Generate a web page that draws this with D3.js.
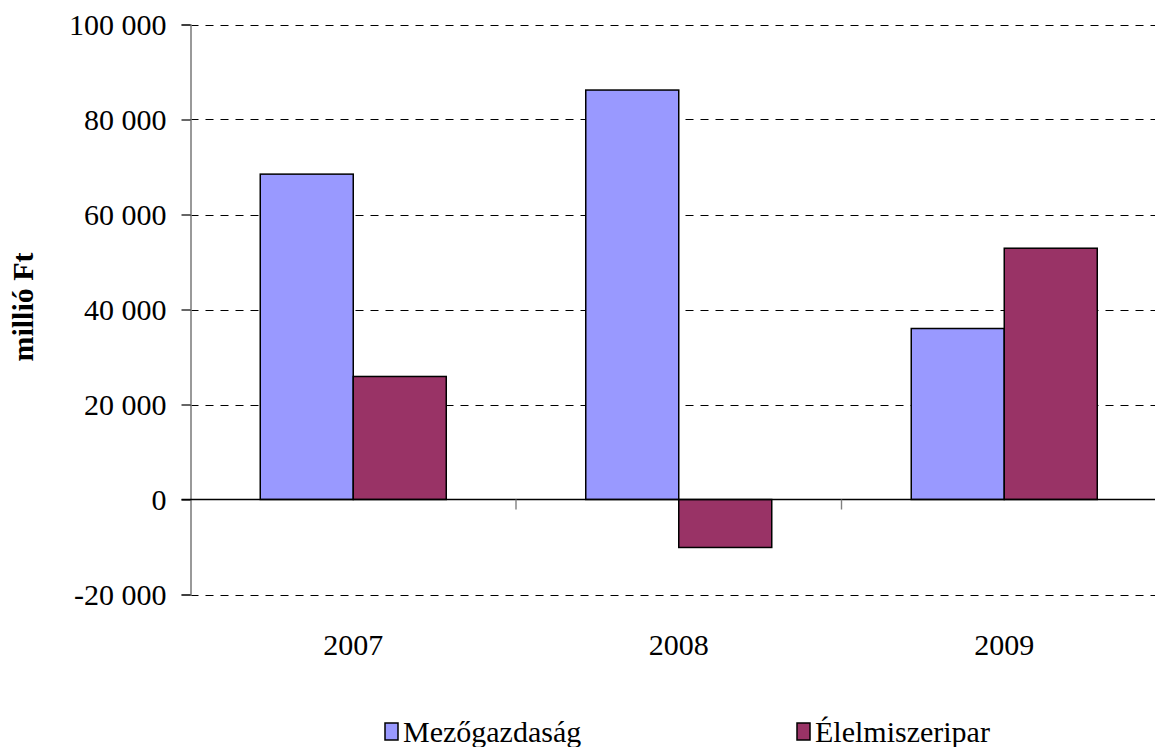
<!DOCTYPE html>
<html>
<head>
<meta charset="utf-8">
<script src="https://cdn.jsdelivr.net/npm/d3@7"></script>
<style>
  .serif { font-family: 'Liberation Serif', Tinos, FreeSerif, 'Times New Roman', serif; }
</style>
</head>
<body style="margin:0;background:#fff">
<svg id="fig" width="1155" height="747" style="display:block"></svg>
<script>
const categories = ["2007", "2008", "2009"];
const seriesNames = ["Mezőgazdaság", "Élelmiszeripar"];
const mezogazdasag = [68500, 86200, 36000];
const elelmiszeripar = [25900, -10100, 52900];
const yTicks = [-20000, 0, 20000, 40000, 60000, 80000, 100000];
const yLabel = "millió Ft";
const colors = ["#9999FF", "#993366"];

(function () {
const data = categories.map((c, i) => ({
  cat: c,
  values: [
    { s: seriesNames[0], v: mezogazdasag[i] },
    { s: seriesNames[1], v: elelmiszeripar[i] }
  ]
}));

const svg = d3.select("#fig");
const mLeft = 190.5, mRight = 1167, mTop = 24.5, mBottom = 594.5;
const setFont = sel => sel
  .attr("class", "serif")
  .attr("font-family", "Liberation Serif, Tinos, FreeSerif, serif")
  .attr("font-size", 30);

const x = d3.scaleBand().domain(categories).range([mLeft, mRight]).padding(0);
const xs = d3.scaleBand().domain(seriesNames).range([0, x.bandwidth()]).paddingInner(0).paddingOuter(0.75);
const y = d3.scaleLinear().domain([-20000, 100000]).range([mBottom, mTop]);
const color = d3.scaleOrdinal().domain(seriesNames).range(colors);

const locale = d3.formatLocale({ decimal: ",", thousands: " ", grouping: [3], currency: ["", ""], minus: "-" });
const fmt = locale.format(",d");

// gridlines (dashed)
svg.append("g").selectAll("line")
  .data(yTicks.filter(t => t !== 0))
  .join("line")
  .attr("x1", mLeft).attr("x2", mRight)
  .attr("y1", d => Math.round(y(d)) + 0.5).attr("y2", d => Math.round(y(d)) + 0.5)
  .attr("stroke", "#000").attr("stroke-width", 1.2)
  .attr("stroke-dasharray", "8,7");

// y axis
const yAxis = d3.axisLeft(y).tickValues(yTicks).tickFormat(fmt).tickSize(9).tickPadding(15);
const gy = svg.append("g").attr("transform", `translate(${mLeft},0)`).call(yAxis);
gy.attr("font-family", "Liberation Serif, Tinos, FreeSerif, serif").attr("font-size", 30);
gy.select(".domain").attr("stroke", "#808080").attr("stroke-width", 1.6);
gy.selectAll(".tick line").attr("stroke", "#000").attr("stroke-width", 1.2);
gy.selectAll(".tick text").attr("fill", "#000").call(setFont);

// bars
const groups = svg.append("g").selectAll("g")
  .data(data).join("g")
  .attr("transform", d => `translate(${x(d.cat)},0)`);
groups.selectAll("rect")
  .data(d => d.values).join("rect")
  .attr("x", d => xs(d.s))
  .attr("width", xs.bandwidth())
  .attr("y", d => y(Math.max(0, d.v)))
  .attr("height", d => Math.abs(y(d.v) - y(0)))
  .attr("fill", d => color(d.s))
  .attr("stroke", "#000").attr("stroke-width", 1.5);

// zero line
svg.append("line")
  .attr("x1", mLeft - 9).attr("x2", mRight)
  .attr("y1", y(0)).attr("y2", y(0))
  .attr("stroke", "#000").attr("stroke-width", 1.4);

// category tick marks
svg.append("g").selectAll("line")
  .data(categories.slice(1))
  .join("line")
  .attr("x1", d => x(d)).attr("x2", d => x(d))
  .attr("y1", y(0)).attr("y2", y(0) + 10)
  .attr("stroke", "#808080").attr("stroke-width", 1.4);

// category labels
svg.append("g").selectAll("text")
  .data(categories).join("text")
  .attr("x", d => x(d) + x.bandwidth() / 2)
  .attr("y", 655)
  .attr("text-anchor", "middle")
  .call(setFont)
  .text(d => d);

// y label
svg.append("text")
  .attr("transform", "translate(33,307) rotate(-90)")
  .attr("text-anchor", "middle")
  .call(setFont)
  .attr("font-weight", "bold")
  .text(yLabel);

// legend
const legendX = [385, 797];
const leg = svg.append("g").selectAll("g")
  .data(seriesNames).join("g")
  .attr("transform", (d, i) => `translate(${legendX[i]},0)`);
leg.append("rect")
  .attr("x", 0).attr("y", 723).attr("width", 13).attr("height", 17)
  .attr("fill", d => color(d)).attr("stroke", "#000").attr("stroke-width", 1.5);
leg.append("text")
  .attr("x", 18).attr("y", 742)
  .call(setFont)
  .text(d => d);
})();
</script>
</body>
</html>
